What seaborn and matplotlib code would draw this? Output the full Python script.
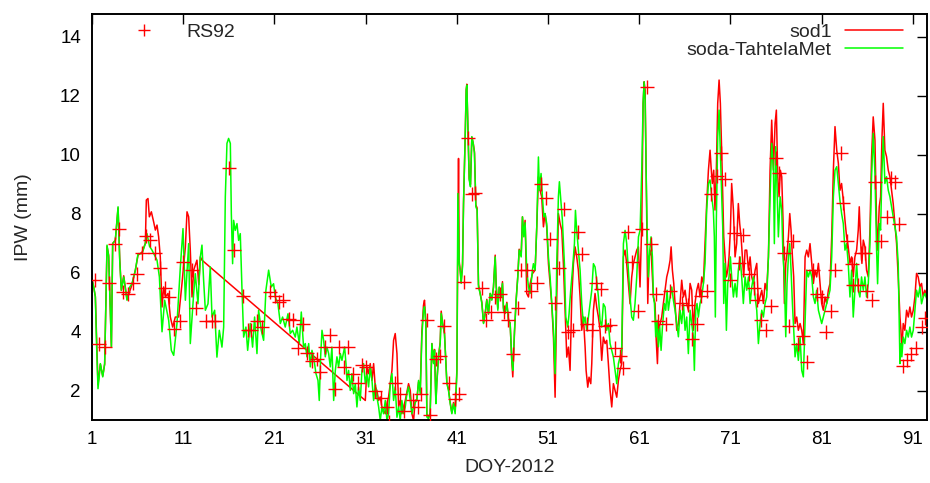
import numpy as np
import pandas as pd
import matplotlib
matplotlib.use("Agg")
import matplotlib.pyplot as plt
from matplotlib.lines import Line2D
import seaborn as sns

# soda-TahtelaMet (green)
tahtela_doy = [1.0, 1.2, 1.36, 1.5, 1.65, 1.91, 2.17, 2.38, 2.64, 2.82, 3.12, 3.26, 3.55, 3.85, 4.03, 4.21, 4.47,
               4.83, 5.1, 5.38, 5.75, 6.04, 6.48, 6.84, 7.02, 7.3, 7.57, 8.12, 8.38, 8.67, 8.96, 9.4, 9.69, 9.95,
               10.31, 10.68, 10.97, 11.23, 11.59, 11.77, 12.14,
               12.32, 12.61, 12.87, 13.05, 13.23, 13.42, 13.71, 13.96, 14.15, 14.44, 14.69, 14.95, 15.24, 15.43,
               15.61, 15.79, 15.97, 16.16, 16.27, 16.41, 16.52, 16.7, 16.89, 17.07, 17.25, 17.43, 17.62, 17.87,
               18.06, 18.35, 18.6, 18.82, 19.08, 19.26, 19.55, 19.81, 20.06, 20.36, 20.65, 20.9, 21.09, 21.38,
               21.64, 21.89, 22.18, 22.48, 22.73, 22.99, 23.28, 23.46, 23.72, 23.94, 24.19,
               24.38, 24.56, 24.75, 24.93, 25.11, 25.29, 25.55, 25.77, 25.91, 26.06, 26.21, 26.39, 26.57, 26.75,
               26.94, 27.12, 27.3, 27.49, 27.67, 27.85, 28.03, 28.22, 28.4, 28.69, 28.84, 28.95, 29.13, 29.31,
               29.49, 29.68, 29.86, 30.04, 30.22, 30.41, 30.59, 30.77, 30.96, 31.14, 31.32, 31.5, 31.69, 31.87,
               32.05, 32.23, 32.42, 32.6, 32.78, 32.96, 33.15, 33.33, 33.51, 33.7, 33.88, 34.06, 34.24, 34.43,
               34.61, 34.79, 34.97, 35.16, 35.34, 35.52, 35.7, 35.89, 36.07, 36.25, 36.43,
               36.61, 36.8, 36.98, 37.16, 37.34, 37.45, 37.6, 37.71, 37.89, 38.07, 38.26, 38.44, 38.55, 38.7,
               38.8, 38.99, 39.17, 39.28, 39.43, 39.64, 39.9, 40.08, 40.27, 40.45, 40.63, 40.81, 41.0, 41.11,
               41.25, 41.36, 41.47, 41.62, 41.73, 41.91, 42.02, 42.09, 42.2, 42.35, 42.49, 42.64, 42.79, 42.93,
               43.08, 43.22, 43.37, 43.55, 43.74, 43.92, 44.1, 44.28, 44.47, 44.65, 44.83, 45.01, 45.2, 45.31,
               45.49, 45.64, 45.85, 46.0, 46.11, 46.29, 46.48, 46.66, 46.84, 47.02, 47.13, 47.32, 47.5, 47.68,
               47.83, 48.05, 48.19, 48.34,
               48.48, 48.66, 48.85, 49.03, 49.14, 49.28, 49.39, 49.58, 49.76, 49.94, 50.05, 50.23, 50.38, 50.53,
               50.67, 50.85, 51.04, 51.22, 51.4, 51.59, 51.77, 51.95, 52.13, 52.24, 52.43, 52.57, 52.79, 52.94,
               53.16, 53.3, 53.48, 53.67, 53.89, 54.0, 54.14, 54.32, 54.51, 54.69, 54.87, 55.06, 55.24, 55.42,
               55.6, 55.79, 55.97, 56.15, 56.33, 56.52, 56.7, 56.88, 57.06, 57.25, 57.43, 57.61, 57.8, 57.98,
               58.16, 58.34, 58.53, 58.71, 58.89, 59.07, 59.26, 59.44, 59.62, 59.8, 59.99, 60.17, 60.35, 60.53,
               60.72, 60.91, 61.09, 61.27, 61.42, 61.53, 61.64, 61.75, 61.86, 62.0, 62.15, 62.29, 62.44, 62.55,
               62.66, 62.8, 62.95, 63.1, 63.24, 63.39, 63.54, 63.75, 63.9, 64.05, 64.19, 64.38, 64.56, 64.74,
               64.92, 65.11, 65.29, 65.47, 65.65, 65.84, 66.02, 66.2, 66.38, 66.57, 66.75, 66.93, 67.04, 67.19,
               67.33, 67.48, 67.66, 67.85, 68.03, 68.21, 68.39, 68.58, 68.76, 68.94, 69.12, 69.23, 69.34, 69.45,
               69.6, 69.75, 69.89, 70.04, 70.15, 70.26, 70.4, 70.55, 70.7, 70.84, 70.99, 71.13, 71.32, 71.5,
               71.68, 71.86, 72.05, 72.23, 72.41,
               72.6, 72.78, 72.97, 73.15, 73.33, 73.51, 73.7, 73.88, 74.06, 74.24, 74.43, 74.61, 74.79, 74.97,
               75.16, 75.34, 75.52, 75.71, 75.81, 75.96, 76.11, 76.25, 76.44, 76.62, 76.76, 76.91, 77.06, 77.2,
               77.35, 77.5, 77.64, 77.79, 77.93, 78.08, 78.26, 78.44, 78.63, 78.81, 78.99, 79.18, 79.36, 79.54,
               79.72, 79.91, 80.09, 80.27, 80.45, 80.64, 80.82, 81.0, 81.18, 81.37, 81.55, 81.73, 81.91, 82.1,
               82.28, 82.46, 82.65, 82.83,
               83.0, 83.19, 83.37, 83.55, 83.73, 83.91, 84.1, 84.28, 84.46, 84.64, 84.83, 85.01, 85.19, 85.37,
               85.56, 85.74, 85.92, 86.11, 86.29, 86.47, 86.65, 86.84, 87.02, 87.13, 87.31, 87.46, 87.6, 87.75,
               87.93, 88.11, 88.3, 88.48, 88.84, 89.21, 89.39, 89.58, 89.69, 89.79, 89.94, 90.12, 90.31, 90.49,
               90.67, 90.85, 91.04, 91.22, 91.4, 91.58, 91.77, 91.95, 92.13, 92.31, 92.57]
tahtela_ipw = [5.75, 5.5, 5.18, 3.5, 2.07, 2.92, 2.47, 2.92, 6.94, 6.54, 3.48, 6.99, 7.11, 8.24, 6.43, 5.41, 5.86,
               5.07, 5.5, 5.64, 6.09, 6.65, 6.65, 6.99, 7.33, 6.9, 6.77, 6.43, 5.86, 4.0, 5.07, 4.39, 3.37, 3.2,
               4.28, 6.2, 7.5, 5.07, 6.99, 3.6, 5.3,
               5.97, 4.95, 6.54, 6.94, 5.75, 4.73, 4.95, 6.2, 4.5, 4.73, 3.14, 4.05, 3.48, 4.16,
               8.58, 10.39, 10.56, 10.39, 8.01, 6.31, 7.78, 7.44, 7.67, 7.1, 7.33, 5.52, 3.82, 4.16,
               3.37, 4.28, 3.48, 4.5, 3.26, 4.73, 4.05, 3.71, 5.41, 6.09, 5.52, 5.63, 5.18, 4.95,
               4.28, 4.5, 4.16, 4.61, 3.94, 4.05, 3.82, 4.16, 3.6, 4.67, 3.48,
               3.6, 3.15, 3.6, 2.81, 3.37, 3.15, 2.58, 2.35, 1.67, 3.15, 4.05, 3.71, 3.15, 3.48,
               3.26, 2.81, 3.48, 1.67, 2.69, 3.15, 2.81, 3.26, 3.03, 3.48, 2.92, 2.35, 2.69, 2.01,
               2.58, 1.9, 2.24, 1.45, 2.13, 1.67, 2.69, 2.92, 2.24, 2.58, 2.13, 2.81, 2.35, 1.67,
               2.24, 1.79, 1.45, 0.99, 1.45, 1.22, 1.67, 0.99, 1.22, 2.24, 2.58, 1.67, 2.13, 1.1,
               1.45, 0.99, 1.67, 1.22, 1.45, 1.9, 2.13, 1.67, 1.22, 1.45, 1.6,
               1.67, 2.35, 1.9, 3.82, 4.73, 4.85, 4.28, 1.11, 1.05, 1.22, 3.6, 2.92, 3.37, 1.56,
               2.24, 3.14, 3.6, 4.62, 4.28, 3.94, 2.24, 2.01, 1.56, 1.22, 1.56, 1.22, 2.58, 8.69,
               6.31, 6.09, 5.64, 6.2, 8.35, 10.62, 12.2, 12.37, 11.07, 9.15, 8.92, 10.62, 10.39, 10.05,
               8.24, 8.13, 5.52, 5.3, 4.96, 4.28, 4.62, 5.07, 4.62, 5.3, 5.07, 5.52, 6.54, 5.52,
               4.73, 5.52, 5.18, 5.64, 4.73, 4.62, 4.96, 4.39, 4.28, 3.03, 2.69, 4.05, 5.07, 5.86,
               6.77, 6.54, 7.9, 7.22,
               7.7, 6.09, 5.52, 5.3, 5.63, 6.09, 6.31, 6.09, 7.56, 9.93, 8.8, 9.37, 8.58, 7.9,
               8.01, 7.67, 6.54, 5.86, 4.95, 4.05, 2.58, 6.31, 8.58, 9.09, 8.35, 7.78, 6.31, 4.5,
               4.16, 4.61, 5.41, 6.09, 6.99, 8.12, 7.44, 6.77, 6.09, 4.95, 4.28, 4.5, 4.05, 4.5,
               4.95, 5.41, 6.31, 6.2, 5.75, 5.18, 4.39, 4.16, 4.95, 4.84, 4.05, 4.28, 3.6, 3.37,
               3.14, 2.69, 2.24, 2.92, 3.14, 3.37, 6.99, 7.44, 6.99, 6.09, 5.18, 4.5, 4.39, 4.95,
               5.86, 7.22, 7.45, 9.48, 11.75, 12.48, 11.86, 9.48, 7.45, 5.86, 6.77, 7.22, 6.54, 5.18,
               4.96, 3.83, 4.39, 3.49, 4.17, 3.37, 4.17, 4.96, 4.73, 5.41, 4.73, 5.18, 5.52, 5.07,
               4.73, 4.28, 3.83, 4.73, 4.28, 4.96, 4.05, 4.5, 3.26, 4.73, 4.28, 3.83, 2.69, 4.73,
               4.96, 4.5, 4.96, 5.18, 5.64, 6.32, 8.13, 9.03, 9.15, 8.58, 8.13, 7.22, 4.5, 7.79,
               10.62, 11.52, 10.05, 8.58, 7.56, 4.96, 6.32, 4.05, 5.64, 5.86, 6.54, 5.86, 5.18, 5.64,
               5.18, 6.09, 6.54, 5.86, 4.96,
               5.86, 5.41, 5.86, 4.96, 5.52, 5.86, 5.18, 4.73, 3.6, 4.28, 4.73, 4.5, 4.96, 5.18,
               6.54, 8.58, 10.39, 9.48, 6.99, 10.28, 8.81, 7.22, 8.58, 8.13, 6.54, 5.86, 3.83, 5.64,
               6.54, 6.99, 6.09, 4.96, 4.05, 3.15, 3.6, 3.03, 3.83, 2.69, 2.47, 4.28, 6.09, 5.86,
               6.09, 5.86, 5.18, 4.96, 5.41, 4.73, 4.5, 4.28, 4.5, 4.73, 4.96, 5.18, 5.41, 6.54,
               8.58, 9.48, 9.6, 9.03,
               8.46, 8.0, 7.67, 6.77, 6.99, 6.32, 5.18, 6.09, 4.5, 5.41, 6.32, 5.41, 5.18, 5.86,
               5.41, 5.86, 5.18, 5.63, 6.99, 9.26, 10.73, 9.37, 6.77, 5.63, 7.67, 7.45, 9.37, 10.62,
               9.03, 9.26, 8.8, 8.58, 7.9, 7.22, 6.32, 2.92, 3.6, 3.15, 3.82, 3.6, 4.05, 3.82,
               4.16, 3.82, 4.05, 4.73, 5.41, 5.18, 5.52, 4.95, 5.18, 5.3, 5.07]

# sod1 (red); no data between DOY 13 and 31, gnuplot joins the gap
sod1_doy = [1.0, 1.36, 1.65, 1.91, 2.17, 2.38, 2.64, 2.82, 3.12, 3.26, 3.55, 3.85, 4.03, 4.21, 4.47, 4.83,
            5.38, 5.75, 6.04, 6.48, 6.84, 6.95, 7.13, 7.28, 7.5, 7.75, 7.94, 8.12, 8.3, 8.48, 8.67, 8.85,
            9.03, 9.33, 9.58, 9.84, 10.13, 10.49, 10.86, 11.23, 11.41, 11.59, 11.77, 11.96, 12.14, 12.5,
            12.7, 12.87, 13.05,
            30.96, 31.14, 31.32, 31.5, 31.69, 31.87, 32.05, 32.23, 32.42, 32.6, 32.78, 33.15, 33.33, 33.51,
            33.7, 33.88, 34.06, 34.24, 34.43, 34.61, 34.79, 34.97, 35.34, 35.7, 35.89, 36.07, 36.25, 36.43,
            36.61, 36.8, 36.98, 37.16, 37.34, 37.45, 37.6, 37.71, 37.89, 38.07, 38.26, 38.44, 38.55, 38.7,
            38.8, 38.99, 39.17, 39.28, 39.43, 39.64, 39.9, 40.08, 40.27, 40.45, 40.63, 40.81, 41.0, 41.18,
            41.25, 41.36, 41.47, 41.62, 41.73, 41.91, 42.02, 42.09, 42.2, 42.35, 42.49, 42.64, 42.79, 42.93,
            43.08, 43.22, 43.37, 43.55, 43.74, 43.92, 44.1, 44.28, 44.47, 44.65, 44.83, 45.01, 45.2, 45.31,
            45.49, 45.64, 45.85, 46.0, 46.11, 46.29, 46.48, 46.66, 46.84, 47.02, 47.13, 47.32, 47.5, 47.68,
            47.83, 48.05, 48.19, 48.34,
            48.48, 48.66, 48.85, 49.03, 49.28, 49.58, 49.76, 49.94, 50.12, 50.3, 50.49, 50.67, 50.85, 51.04,
            51.4, 51.59, 51.77, 51.95, 52.13, 52.32, 52.5, 52.68, 52.86, 53.05, 53.23, 53.41, 53.6, 53.78,
            53.96, 54.14, 54.32, 54.51, 54.69, 54.87, 55.06, 55.17, 55.35, 55.49, 55.68, 55.79, 55.97, 56.15,
            56.33, 56.52, 56.7, 56.88, 57.06, 57.25, 57.43, 57.61, 57.8, 57.98, 58.16, 58.34, 58.53, 58.71,
            58.89, 59.07, 59.26, 59.44, 59.62, 59.8, 59.99, 60.17, 60.35, 60.53, 60.72, 60.9, 61.08, 61.27,
            61.42, 61.53, 61.64, 61.75, 61.86, 61.93, 62.07, 62.29, 62.44, 62.55, 62.73, 62.84, 62.99, 63.1,
            63.28, 63.46, 63.64, 63.83, 64.01, 64.19, 64.38, 64.49, 64.63, 64.78, 64.92, 65.11, 65.29, 65.47,
            65.65, 65.84, 66.02, 66.2, 66.38, 66.57, 66.75, 66.93, 67.11, 67.3, 67.48, 67.66, 67.85, 68.03,
            68.21, 68.39, 68.58, 68.76, 68.87, 69.01, 69.16, 69.3, 69.45, 69.6, 69.75, 69.89, 70.04, 70.15,
            70.26, 70.4, 70.55, 70.7, 70.84, 70.99, 71.13, 71.32, 71.5, 71.68, 71.86, 72.01, 72.16, 72.3,
            72.45, 72.6,
            72.78, 72.97, 73.15, 73.33, 73.51, 73.7, 73.88, 74.06, 74.24, 74.43, 74.61, 74.79, 74.97, 75.16,
            75.34, 75.52, 75.71, 75.89, 76.03, 76.18, 76.33, 76.47, 76.62, 76.76, 76.91, 77.06, 77.2, 77.35,
            77.5, 77.64, 77.79, 77.93, 78.08, 78.26, 78.44, 78.63, 78.81, 78.99, 79.18, 79.36, 79.54, 79.72,
            79.91, 80.09, 80.27, 80.45, 80.64, 80.82, 81.0, 81.18, 81.37, 81.55, 81.73, 81.91, 82.1, 82.28,
            82.46, 82.65, 82.83,
            83.0, 83.18, 83.37, 83.55, 83.73, 83.91, 84.1, 84.28, 84.46, 84.64, 84.83, 85.01, 85.12, 85.26,
            85.41, 85.56, 85.74, 85.92, 86.11, 86.29, 86.47, 86.65, 86.84, 87.02, 87.13, 87.31, 87.46, 87.6,
            87.75, 87.93, 88.11, 88.3, 88.48, 88.84, 89.21, 89.39, 89.58, 89.69, 89.79, 89.94, 90.12, 90.31,
            90.49, 90.67, 90.85, 91.04, 91.22, 91.4, 91.58, 91.77, 91.95, 92.13, 92.31, 92.57]
sod1_ipw = [5.8, 5.2, 2.2, 2.9, 2.5, 2.9, 6.9, 6.6, 3.5, 7.0, 7.1, 8.2, 6.5, 5.4, 5.9, 5.1,
            5.6, 6.1, 6.6, 6.7, 7.0, 8.47, 8.52, 7.9, 8.07, 7.73, 7.45, 7.62, 7.22, 6.54, 4.84, 5.52,
            5.18, 5.3, 4.5, 4.16, 4.5, 4.5, 5.64, 6.88, 8.07, 7.9, 6.77, 5.18, 6.09, 6.43,
            5.6, 6.54, 6.43,
            1.67, 2.81, 2.58, 2.92, 2.35, 2.92, 2.13, 2.01, 1.67, 1.79, 1.45, 1.22, 1.56, 1.79,
            2.24, 2.69, 3.71, 3.94, 3.26, 1.45, 1.67, 1.22, 1.67, 2.24, 2.01, 1.22, 0.99, 1.67,
            1.7, 2.3, 2.0, 4.0, 4.9, 5.07, 4.3, 1.2, 1.1, 1.25, 3.6, 2.95, 3.4, 1.6,
            2.3, 3.2, 3.65, 4.7, 4.3, 3.95, 2.3, 2.05, 1.6, 1.25, 1.6, 1.3, 2.7, 9.88,
            6.4, 6.1, 5.7, 6.3, 8.4, 10.6, 12.2, 12.4, 11.1, 9.2, 9.0, 10.6, 10.4, 10.1,
            8.3, 8.2, 5.6, 5.3, 5.0, 4.3, 4.6, 5.1, 4.6, 5.3, 5.1, 5.5, 6.6, 5.6,
            4.8, 5.5, 5.2, 5.7, 4.8, 4.7, 5.0, 4.4, 4.3, 3.0, 2.47, 4.0, 5.1, 5.9,
            6.8, 6.6, 7.9, 7.3,
            7.78, 5.3, 5.18, 5.63, 5.97, 6.09, 7.56, 9.26, 8.8, 8.58, 7.56, 8.01, 7.56, 6.31,
            4.95, 3.82, 1.78, 5.18, 8.01, 7.67, 7.45, 6.31, 4.73, 3.14, 3.48, 2.69, 5.18, 6.31,
            6.88, 6.54, 6.09, 5.18, 4.05, 4.5, 3.48, 2.69, 2.12, 2.46, 2.24, 2.92, 4.73, 5.3,
            4.84, 4.5, 4.05, 3.03, 3.82, 3.6, 3.71, 2.92, 2.01, 1.45, 2.24, 2.01, 1.78, 2.35,
            2.69, 2.92, 6.54, 6.77, 6.31, 5.63, 4.95, 5.86, 6.31, 6.54, 6.77, 6.88, 5.52, 7.67,
            11.75, 12.48, 12.2, 9.48, 6.66, 4.96, 6.54, 6.77, 5.86, 5.18, 4.96, 3.83, 2.92, 4.05,
            4.28, 4.5, 4.96, 5.41, 5.86, 6.09, 6.43, 6.88, 6.09, 5.64, 4.96, 4.05, 4.28, 4.96,
            5.75, 5.18, 5.41, 4.96, 4.73, 5.64, 5.41, 4.05, 4.96, 5.41, 5.64, 5.18, 5.86, 5.64,
            6.99, 8.35, 9.48, 10.16, 9.6, 9.03, 9.48, 8.13, 9.48, 11.75, 12.54, 11.75, 10.05, 8.58,
            7.22, 6.54, 5.86, 6.09, 6.54, 7.45, 9.03, 8.13, 6.54, 6.99, 8.35, 7.67, 7.22, 6.54,
            5.86, 6.77,
            6.77, 6.09, 6.54, 5.86, 5.64, 6.09, 6.32, 4.96, 5.18, 5.41, 4.96, 5.64, 5.41, 6.54,
            9.48, 11.18, 9.48, 11.07, 11.52, 9.26, 8.58, 9.48, 9.26, 7.79, 4.96, 6.32, 6.66, 7.22,
            8.01, 7.45, 6.54, 5.86, 4.28, 4.5, 4.05, 4.28, 4.05, 3.6, 6.54, 6.77, 6.54, 6.99,
            6.32, 5.64, 6.09, 5.86, 6.32, 5.64, 4.96, 4.73, 5.18, 4.96, 5.41, 5.64, 7.22, 9.48,
            10.96, 10.16, 9.71,
            8.8, 9.03, 8.46, 7.79, 7.22, 6.88, 6.32, 6.54, 5.86, 6.54, 6.77, 7.45, 8.24, 7.11,
            6.32, 7.11, 6.88, 6.09, 5.86, 7.45, 9.94, 11.29, 10.5, 7.67, 6.77, 8.24, 8.58, 10.5,
            11.75, 10.16, 9.94, 9.48, 9.26, 8.35, 6.99, 5.86, 4.5, 4.05, 3.37, 4.28, 4.05, 4.73,
            4.5, 4.84, 4.5, 4.73, 5.18, 5.98, 5.86, 5.52, 5.64, 5.18, 5.41, 5.18]

# RS92 radiosonde soundings
rs92_doy = [1.36, 1.8, 2.46, 2.9, 3.48, 3.92, 4.39, 4.94, 5.49, 5.93, 6.48, 6.95, 7.39, 7.94, 8.49, 8.96,
            9.47, 9.95, 10.6, 10.93, 11.95, 12.43, 13.53, 14.15, 14.51, 15.97, 16.52, 17.51, 18.09, 18.46,
            19.08, 19.63, 20.54, 21.09, 21.53, 21.89, 22.55, 22.99, 23.57, 24.08, 24.6, 25.07, 25.66, 26.02,
            26.57, 27.12, 27.6, 28.03, 28.58, 29.06, 29.6, 30.12, 30.59, 31.07, 32.05, 32.71, 33.33, 33.59,
            34.17, 34.72, 35.16, 36.14, 36.7, 37.1, 37.71, 38.07, 38.7, 39.17, 39.64, 40.16, 40.74, 41.18,
            41.73, 42.17, 42.71, 43.01, 43.74, 44.17, 44.76, 45.2, 45.75, 46.22, 46.66, 47.13, 47.68, 48.05,
            48.7, 49.15, 49.76, 50.23, 50.78, 51.22, 51.77, 52.24, 52.79, 53.23, 53.78, 54.25, 54.76, 55.24,
            55.79, 56.23, 56.81, 57.25, 57.8, 58.34, 58.89, 59.26, 59.8, 60.24, 60.83, 61.26, 61.82, 62.29,
            62.8, 63.1, 63.9, 64.38, 65.65, 66.38, 66.82, 67.3, 67.77, 68.39, 68.87, 69.49, 69.96, 70.4,
            70.95, 71.43, 71.94, 72.41, 73.0, 73.55, 73.88, 74.35, 74.86, 75.45, 75.96, 76.36, 76.91, 77.42,
            77.9, 78.37, 78.99, 79.36, 80.09, 80.45, 81.07, 81.44, 82.02, 82.46, 83.1, 83.37, 83.73, 84.28,
            84.46, 85.01, 85.26, 85.74, 86.0, 86.47, 86.84, 87.46, 88.11, 88.55, 89.03, 89.5, 89.87, 90.31,
            90.74, 91.33, 91.95, 92.31]
rs92_ipw = [5.75, 3.6, 3.48, 5.67, 6.97, 7.47, 5.35, 5.27, 5.67, 5.97, 6.68, 7.24, 7.11, 6.68, 6.18, 5.5,
            5.18, 4.09, 4.37, 6.37, 6.09, 4.79, 4.37, 4.37, 4.37, 9.57, 6.79, 5.2, 4.07, 4.07,
            4.37, 4.16, 5.35, 5.2, 5.01, 5.09, 4.45, 4.39, 3.46, 4.28, 3.28, 3.0, 3.09, 2.64,
            3.48, 3.88, 2.07, 3.48, 2.81, 3.48, 2.58, 2.27, 2.86, 2.81, 1.99, 1.75, 1.45, 0.94,
            2.27, 1.9, 1.31, 1.67, 1.46, 1.88, 4.39, 1.17, 3.06, 3.17, 4.19, 2.26, 1.73, 1.88,
            5.68, 10.56, 8.67, 8.71, 5.47, 4.41, 4.67, 5.18, 5.27, 4.67, 4.41, 3.26, 4.79, 6.09,
            6.09, 5.37, 5.66, 9.0, 8.54, 7.16, 4.98, 6.18, 8.18, 3.99, 4.05, 7.37, 6.65, 4.28,
            4.07, 5.66, 5.46, 4.18, 4.24, 3.46, 3.17, 2.78, 7.37, 6.37, 4.69, 7.47, 12.29, 6.99,
            5.27, 4.37, 4.28, 5.39, 4.96, 4.9, 3.77, 4.28, 5.21, 5.39, 8.67, 9.28, 10.07, 9.17,
            5.77, 7.36, 6.34, 7.28, 5.97, 5.47, 5.07, 4.41, 4.07, 4.87, 9.88, 9.37, 6.68, 4.19,
            7.08, 3.58, 3.87, 2.96, 6.09, 5.27, 5.18, 3.99, 4.71, 6.09, 10.07, 8.37, 7.08, 6.29,
            5.58, 5.58, 6.68, 6.68, 5.38, 5.07, 9.09, 7.08, 7.88, 9.23, 9.09, 7.67, 2.85, 3.05,
            3.26, 3.46, 4.16, 4.48]

sod1 = pd.DataFrame({"doy": sod1_doy, "ipw": sod1_ipw})
tahtela = pd.DataFrame({"doy": tahtela_doy, "ipw": tahtela_ipw})
rs92 = pd.DataFrame({"doy": rs92_doy, "ipw": rs92_ipw})

sns.set_style("white")
plt.rcParams['font.family'] = ['Liberation Sans', 'DejaVu Sans']

fig = plt.figure(figsize=(9.3, 4.83), dpi=100)
ax = fig.add_axes([0.099, 0.13, 0.898, 0.841])

red = '#ff0000'
green = '#00ff00'
sns.lineplot(data=sod1, x='doy', y='ipw', sort=False, estimator=None, color=red, lw=1.1, ax=ax)
sns.lineplot(data=tahtela, x='doy', y='ipw', sort=False, estimator=None, color=green, lw=1.1, ax=ax)
sns.scatterplot(data=rs92, x='doy', y='ipw', marker='+', color=red, s=90, linewidth=1.0, ax=ax, zorder=5)

ax.set_xlim(1, 92.57)
ax.set_ylim(1, 14.78)
ax.set_xticks(range(1, 92, 10))
ax.set_yticks(range(2, 15, 2))
ax.tick_params(direction='in', length=7, width=1, top=True, right=True, labelsize=13.5,
               colors='black', pad=8)
for sp in ax.spines.values():
    sp.set_color('black')
    sp.set_linewidth(1.4)

ax.set_xlabel('DOY-2012', fontsize=14, labelpad=8)
ax.set_ylabel('IPW (mm)', fontsize=14, labelpad=20)

# legends: RS92 top left, the two lines top right with right-aligned labels
fs = 14
h_rs = [Line2D([], [], ls='', marker='+', color=red, ms=8, mew=1)]
leg1 = ax.legend(h_rs, ['RS92'], loc='upper left', bbox_to_anchor=(0.02, 1.02), frameon=False,
                 fontsize=fs, handlelength=1.8, handletextpad=1.27)
ax.add_artist(leg1)
leg2 = ax.legend([Line2D([], [], color=red, lw=1.1)], ['sod1'], loc='upper right',
                 bbox_to_anchor=(0.992, 1.02), frameon=False, fontsize=fs, markerfirst=False,
                 handlelength=3.0, handletextpad=0.67)
ax.add_artist(leg2)
ax.legend([Line2D([], [], color=green, lw=1.1)], ['soda-TahtelaMet'], loc='upper right',
          bbox_to_anchor=(0.992, 0.976), frameon=False, fontsize=fs, markerfirst=False,
          handlelength=3.0, handletextpad=0.67)

fig.savefig('out.png', dpi=100)
